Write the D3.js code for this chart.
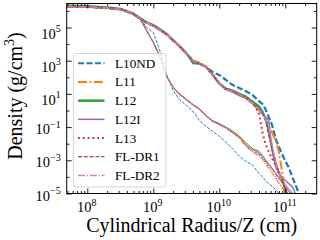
<!DOCTYPE html>
<html><head><meta charset="utf-8">
<script src="https://cdn.jsdelivr.net/npm/d3@7"></script>
<style>
body{margin:0;background:#fff}
svg{display:block}
text{font-family:"Liberation Serif","Times New Roman",serif;fill:#000}
</style></head>
<body><svg id="c" width="320" height="240"></svg>
<script>
// ---- data ----
const models = ["L10ND","L11","L12","L12I","L13","FL-DR1","FL-DR2"];
const radius = [4.9e7,1e8,2e8,3.2e8,5e8,6.3e8,7.9e8,1e9,1.26e9,1.58e9,2e9,2.5e9,3.2e9,4e9,5e9,6.3e9,7.9e9,1e10,1.26e10,1.58e10,2e10,2.5e10,3.2e10,4e10,4.5e10,5e10,5.6e10,6.3e10,7.1e10,7.9e10,8.9e10,1e11,1.12e11,1.26e11,1.41e11,1.58e11];
const N = null;
// dense (outer-envelope) profiles
const upperL10ND = [1.8e6,1.75e6,1.48e6,1.22e6,6.3e5,3.4e5,1.9e5,1.3e5,7.0e4,3.9e4,1.6e4,7.2e3,2.6e3,1.0e3,700,440,210,138,69,35,23,15,8.5,3.7,2.5,1.23,0.41,0.135,0.022,7.2e-3,2.4e-3,9.1e-4,4.0e-4,1.15e-4,3.7e-5,1.23e-5];
const upperL11   = [1.85e6,1.78e6,1.5e6,1.25e6,6.5e5,3.6e5,2.0e5,1.35e5,7.3e4,4.1e4,1.7e4,7.6e3,2.7e3,1.05e3,720,450,150,43,21,16,10,6.8,3.3,1.6,0.8,0.32,0.11,0.05,0.016,4e-3,2.5e-4,6.3e-6,N,N,N,N];
const upperL12   = [2.1e6,2.0e6,1.66e6,1.35e6,7.0e5,3.8e5,2.1e5,1.45e5,8.0e4,4.3e4,1.8e4,7.8e3,2.8e3,700,650,430,150,44,21,16,10.5,7,3.4,1.8,0.9,0.35,0.063,5e-3,5.6e-4,2e-4,7.9e-5,2e-5,5e-6,N,N,N];
const upperL12I  = [1.8e6,1.75e6,1.5e6,1.24e6,6.4e5,3.5e5,1.95e5,1.3e5,7.0e4,3.9e4,1.6e4,7.0e3,2.4e3,950,650,400,130,38,18,13,8,5.5,2.5,1.0,0.63,0.4,0.28,4e-3,5e-4,1.6e-4,8.9e-5,6.3e-5,4e-5,2.8e-5,1.1e-5,4e-6];
const upperL13   = [1.8e6,1.75e6,1.5e6,1.25e6,6.5e5,3.6e5,2.0e5,1.35e5,7.2e4,4.0e4,1.65e4,7.3e3,2.5e3,1.0e3,690,430,140,40,19.5,15,9.2,6.0,2.8,0.7,0.05,0.01,3.5e-3,1.26e-3,5e-4,1.8e-4,6.3e-5,1.6e-5,4e-6,N,N,N];
const upperFLDR1 = [1.82e6,1.76e6,1.5e6,1.25e6,6.5e5,3.6e5,2.0e5,1.35e5,7.1e4,4.0e4,1.66e4,7.4e3,2.6e3,1.0e3,700,440,145,42,20,15.5,9.5,6.3,3.0,1.26,0.63,0.25,0.032,5e-3,1e-3,2.5e-4,6.3e-5,1.6e-5,5e-6,N,N,N];
const upperFLDR2 = [1.82e6,1.76e6,1.5e6,1.25e6,6.5e5,3.6e5,2.0e5,1.35e5,7.1e4,4.0e4,1.66e4,7.4e3,2.6e3,1.0e3,700,440,140,40,19,15,9,6,2.8,1.1,0.56,0.32,0.1,0.01,8e-4,2e-4,7.9e-5,3.2e-5,1.26e-5,5e-6,N,N];
// diffuse profiles
const lowerL10ND = [N,N,N,N,6.6e5,3.6e5,1e5,5e4,4e3,160,16,4.5,2,0.9,0.25,0.11,0.056,0.028,0.0126,5e-3,1.8e-3,9e-4,5e-4,1.6e-4,1e-4,6.3e-5,4e-5,2.8e-5,1.8e-5,1.1e-5,6.3e-6,N,N,N,N,N];
const lowerL11   = [N,N,N,N,6.5e5,3.2e5,6.5e4,1.2e4,1.7e3,115,24,9,4.2,2.1,1.15,0.46,0.22,0.14,0.085,0.044,0.022,7e-3,3e-3,1.8e-3,1.1e-3,6e-4,3.2e-4,1.6e-4,8e-5,4.5e-5,2.2e-5,1e-5,5e-6,N,N,N];
const lowerL12   = [N,N,N,N,6.7e5,3.3e5,7e4,1.3e4,1.9e3,125,26,10,4.6,2.3,1.3,0.5,0.24,0.16,0.1,0.06,0.03,0.012,5e-3,3.5e-3,2e-3,1.1e-3,6e-4,3.2e-4,1.6e-4,9e-5,5e-5,2.5e-5,1.4e-5,8e-6,N,N];
const lowerL12I  = [N,N,N,N,6.5e5,3.2e5,6.8e4,1.3e4,1.9e3,125,26,10,4.5,2.3,1.25,0.5,0.25,0.16,0.095,0.05,0.027,9e-3,4.5e-3,2.8e-3,1.7e-3,1e-3,6e-4,3.4e-4,1.8e-4,1e-4,5.5e-5,3.5e-5,2e-5,1.2e-5,7e-6,N];
const lowerL13   = [N,N,N,N,6.5e5,3.1e5,6.3e4,1.2e4,1.7e3,115,24,9,4.2,2.1,1.1,0.45,0.21,0.14,0.085,0.045,0.024,7.5e-3,3.2e-3,2e-3,1.2e-3,7e-4,3.8e-4,2e-4,1e-4,5e-5,2.5e-5,1.2e-5,6e-6,N,N,N];
const lowerFLDR1 = [N,N,N,N,6.6e5,3.2e5,6.6e4,1.26e4,1.8e3,120,25,9.5,4.4,2.2,1.2,0.48,0.23,0.15,0.091,0.048,0.026,8.7e-3,3.8e-3,2.4e-3,1.4e-3,8.9e-4,5e-4,2.8e-4,1.5e-4,7.9e-5,4.5e-5,2.5e-5,1.6e-5,1e-5,6e-6,N];
const lowerFLDR2 = [N,N,N,N,6.6e5,3.3e5,6.7e4,1.28e4,1.85e3,122,25.5,9.8,4.5,2.25,1.22,0.49,0.24,0.155,0.094,0.05,0.027,9e-3,4e-3,2.5e-3,1.5e-3,9.5e-4,5.3e-4,3e-4,1.6e-4,8.5e-5,4.8e-5,2.7e-5,1.7e-5,1.05e-5,6.2e-6,N];
const yMajorTicks = [1e-5,1e-3,1e-1,1e1,1e3,1e5];
const yMinorTicks = [1e-4,1e-2,1,1e2,1e4,1e6];
const xMajorTicks = [1e8,1e9,1e10,1e11];

const upperSets = [upperL10ND,upperL11,upperL12,upperL12I,upperL13,upperFLDR1,upperFLDR2];
const lowerSets = [lowerL10ND,lowerL11,lowerL12,lowerL12I,lowerL13,lowerFLDR1,lowerFLDR2];
const colors = ["#1f77b4","#ff7f0e","#2ca02c","#9467bd","#d62728","#8c564b","#e377c2"];
const dashU = ["6,2.5","9,2.5,1.8,2.5",null,null,"1.8,3","4,1.8","7,1.8,1.2,1.8"];
const widthU = [2.2,2,2,1.4,2,1.2,1.4];
const dashL = ["3,1.5","5,1.5,1,1.5",null,null,"1,1.6","3,1.5","5,1.5,1,1.5"];
const widthL = [1,1,1,0.9,1,0.9,0.9];

// ---- layout ----
const m = {l:66.7, r:316.7, t:3.5, b:193.5};
const x = d3.scaleLog().domain([Math.pow(10,7.688), Math.pow(10,11.476)]).range([m.l, m.r]);
const y = d3.scaleLog().domain([1e-5, Math.pow(10,6.446)]).range([m.b, m.t]);
const svg = d3.select("#c");

svg.append("defs").append("clipPath").attr("id","clip")
  .append("rect").attr("x",m.l).attr("y",m.t).attr("width",m.r-m.l).attr("height",m.b-m.t);

const line = d3.line().defined(d=>d[1]!=null).x(d=>x(d[0])).y(d=>y(d[1]));
const plot = svg.append("g").attr("clip-path","url(#clip)");

models.forEach((name,i)=>{
  const pts = radius.map((r,j)=>[r, lowerSets[i][j]]);
  plot.append("path").attr("d", line(pts)).attr("fill","none")
    .attr("stroke",colors[i]).attr("stroke-width",widthL[i])
    .attr("stroke-dasharray",dashL[i]);
});
models.forEach((name,i)=>{
  const pts = radius.map((r,j)=>[r, upperSets[i][j]]);
  plot.append("path").attr("d", line(pts)).attr("fill","none")
    .attr("stroke",colors[i]).attr("stroke-width",widthU[i])
    .attr("stroke-dasharray",dashU[i]);
});

// ---- axes ----
const xMinorTicks = [];
for (let e=7;e<=11;e++) for (let k=2;k<=9;k++){ const v=k*Math.pow(10,e); if (v>x.domain()[0] && v<x.domain()[1]) xMinorTicks.push(v); }

function supLabel(sel){
  sel.each(function(d){
    const t=d3.select(this); const e=Math.round(Math.log10(d));
    t.text(null);
    t.append("tspan").text("10");
    t.append("tspan").attr("dy",-6.5).attr("font-size",10).text(e<0?"\u2212"+(-e):String(e));
  });
}
function styleAxis(g){ g.select(".domain").remove(); g.selectAll("line").attr("stroke","#000").attr("stroke-width",0.9); }

// left
const gl = svg.append("g").attr("transform",`translate(${m.l},0)`)
  .call(d3.axisLeft(y).tickValues(yMajorTicks).tickSize(-5).tickPadding(6))
  .call(styleAxis);
gl.selectAll("text").attr("font-size",14.5).attr("font-family",null).attr("dy",null)
  .attr("y",d=>d>=1?10.5:6.5).call(supLabel);
svg.append("g").attr("transform",`translate(${m.l},0)`)
  .call(d3.axisLeft(y).tickValues(yMinorTicks).tickSize(-2.8).tickFormat("")).call(styleAxis);
// right
svg.append("g").attr("transform",`translate(${m.r},0)`)
  .call(d3.axisRight(y).tickValues(yMajorTicks).tickSize(-5).tickFormat("")).call(styleAxis);
svg.append("g").attr("transform",`translate(${m.r},0)`)
  .call(d3.axisRight(y).tickValues(yMinorTicks).tickSize(-2.8).tickFormat("")).call(styleAxis);
// bottom
const gb = svg.append("g").attr("transform",`translate(0,${m.b})`)
  .call(d3.axisBottom(x).tickValues(xMajorTicks).tickSize(-5).tickPadding(0))
  .call(styleAxis);
gb.selectAll("text").attr("font-size",14.5).attr("font-family",null).attr("dy",null)
  .attr("y",18.5).attr("x",-1).call(supLabel);
svg.append("g").attr("transform",`translate(0,${m.b})`)
  .call(d3.axisBottom(x).tickValues(xMinorTicks).tickSize(-2.5).tickFormat("")).call(styleAxis);
// top
svg.append("g").attr("transform",`translate(0,${m.t})`)
  .call(d3.axisTop(x).tickValues(xMajorTicks).tickSize(-5).tickFormat("")).call(styleAxis);
svg.append("g").attr("transform",`translate(0,${m.t})`)
  .call(d3.axisTop(x).tickValues(xMinorTicks).tickSize(-2.5).tickFormat("")).call(styleAxis);

// frame
svg.append("rect").attr("x",m.l).attr("y",m.t).attr("width",m.r-m.l).attr("height",m.b-m.t)
  .attr("fill","none").attr("stroke","#000").attr("stroke-width",1);

// axis titles
svg.append("text").attr("x",(m.l+m.r)/2).attr("y",231.5).attr("text-anchor","middle")
  .attr("font-size",20).text("Cylindrical Radius/Z (cm)");
const yl = svg.append("text").attr("transform","translate(21.5,96) rotate(-90)")
  .attr("text-anchor","middle").attr("font-size",20);
yl.append("tspan").text("Density (g/cm");
yl.append("tspan").attr("dy",-8).attr("font-size",14).text("3");
yl.append("tspan").attr("dy",8).text(")");

// legend
const lg = svg.append("g");
lg.append("rect").attr("x",73.5).attr("y",53.5).attr("width",92.5).attr("height",133.5).attr("rx",2.5)
  .attr("fill","#fff").attr("fill-opacity",0.8).attr("stroke","#cccccc").attr("stroke-width",0.8);
const legW = [2,2,2.4,1.5,2,1.2,1.5];
models.forEach((name,i)=>{
  const cy = 63.3 + i*18.68;
  lg.append("line").attr("x1",78).attr("x2",104.5).attr("y1",cy).attr("y2",cy)
    .attr("stroke",colors[i]).attr("stroke-width",legW[i]).attr("stroke-dasharray",dashU[i]);
  lg.append("text").attr("x",115).attr("y",cy+4.5).attr("font-size",13.2).text(name);
});
</script></body></html>
